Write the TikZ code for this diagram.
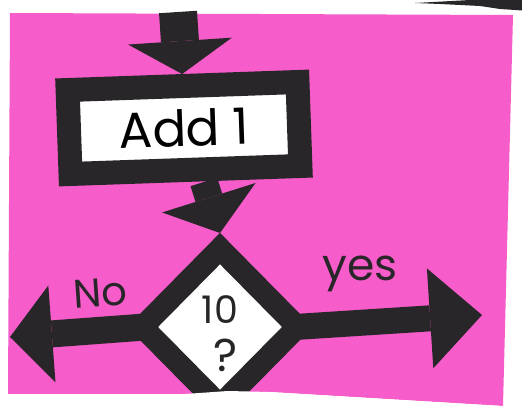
\documentclass[tikz,border=0pt]{standalone}
\usepackage{fontspec}
\setmainfont{Poppins}
\usetikzlibrary{arrows.meta,shapes.geometric}
\definecolor{pinkpaper}{RGB}{246,92,202}
\definecolor{ink}{RGB}{40,38,40}
\begin{document}
\begin{tikzpicture}[x=1pt,y=-1pt,
  box/.style={draw=ink,fill=white,line width=24pt,minimum width=230pt,minimum height=84pt,inner sep=0pt,rotate=2,font=\fontsize{50}{50}\selectfont},
  decision/.style={diamond,draw=ink,fill=white,line width=22pt,minimum width=164pt,minimum height=166pt,inner sep=0pt},
  flow/.style={draw=ink,line cap=butt},
  lbl/.style={text=ink,inner sep=0pt,font=\fontsize{40}{40}\selectfont}]
% paper
\useasboundingbox (0,0) rectangle (522,415);
\fill[white] (-5,-5) rectangle (530,420);
\fill[pinkpaper] (10,13) -- (513,15) -- (503,406) -- (270,392) -- (185,394) -- (8,394) -- cycle;
\fill[ink] (415,3) -- (470,0) -- (530,-2) -- (530,11) -- (500,9) -- (480,6) -- (440,4) -- cycle;
% nodes
\coordinate (in) at (178,12);
\node[box] (add) at (184,128) {Add 1};
\node[decision] (q) at (220,327) {};
\node[lbl,font=\fontsize{38}{38}\selectfont] (ten) at (220,310) {10};
\node[lbl,font=\fontsize{46}{46}\selectfont] (qm) at (226,355) {?};
\coordinate (noend) at (10,337);
\coordinate (yesend) at (482,315);
% connectors
\draw[flow,line width=38pt,-{Triangle[length=33pt,width=104pt,line width=0pt]}] (in) -- (add.north);
\draw[flow,line width=28pt,-{Triangle[length=37pt,width=98pt,line width=0pt]}] ([xshift=18pt]add.south) -- (q.north);
\draw[flow,line width=27pt,-{Triangle[length=42pt,width=97pt,line width=0pt]}] ([xshift=18pt]q.west) -- (noend);
\draw[flow,line width=26pt,-{Triangle[length=52pt,width=100pt,line width=0pt]}] ([xshift=-18pt]q.east) -- (yesend);
% labels
\node[lbl,rotate=4] (no) at (100,293) {No};
\node[lbl,font=\fontsize{44}{44}\selectfont] (yes) at (360,274) {yes};
% torn bottom edge
\fill[white] (-5,440) -- (-5,394) -- (8,394) -- (185,394) -- (228,391) -- (270,392) -- (503,406) -- (530,406) -- (530,440) -- cycle;
\end{tikzpicture}
\end{document}
